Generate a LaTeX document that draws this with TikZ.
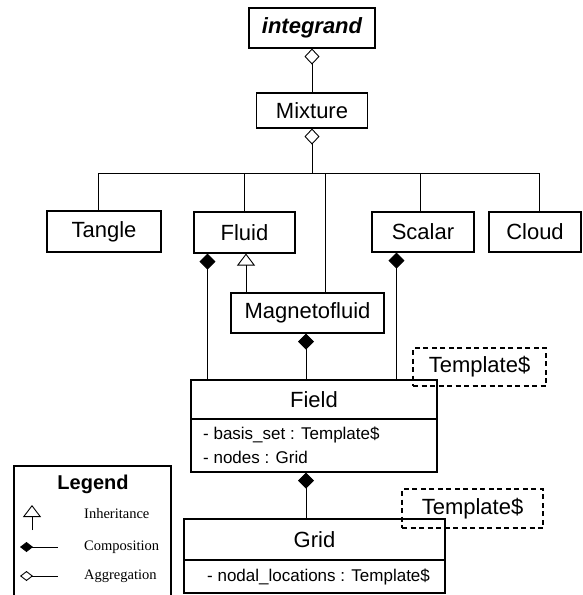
\documentclass[tikz,border=0pt]{standalone}
\usepackage{fontspec}
\setmainfont{Liberation Serif}
\newfontfamily\uisans{Liberation Sans}
\usetikzlibrary{arrows.meta}
\begin{document}
\begin{tikzpicture}[x=1pt,y=-1pt,
  cls/.style={draw, line width=1.1pt, inner sep=0pt,
    font=\uisans\fontsize{22}{26}\selectfont},
  attr/.style={anchor=west, inner sep=0pt,
    font=\uisans\fontsize{17}{20}\selectfont},
  tmpl/.style={draw, dash pattern=on 5pt off 3.5pt, line width=1.1pt,
    inner sep=0pt, font=\uisans\fontsize{22}{26}\selectfont},
  conn/.style={line width=0.9pt},
  comp/.style={conn, {Diamond[length=16pt,width=16pt]}-},
  aggr/.style={conn, {Diamond[open,length=16pt,width=15pt]}-},
  inh/.style={conn, -{Triangle[open,length=12pt,width=18pt]}},
  legtext/.style={anchor=west, inner sep=0pt, font=\fontsize{14.5}{17}\selectfont}
]
\useasboundingbox (0,0) rectangle (582,595);

% classes
\node[cls, minimum width=126pt, minimum height=40pt,
  font=\uisans\bfseries\itshape\fontsize{22}{26}\selectfont] (integrand) at (312,28) {integrand};
\node[cls, minimum width=111pt, minimum height=35pt] (mixture) at (312,110.5) {Mixture};
\node[cls, minimum width=114pt, minimum height=41pt] (tangle) at (104,231.5) {Tangle};
\node[cls, minimum width=101pt, minimum height=41pt] (fluid) at (244.5,232.5) {Fluid};
\node[cls, minimum width=102pt, minimum height=40pt] (scalar) at (423,232) {Scalar};
\node[cls, minimum width=92pt, minimum height=40pt] (cloud) at (535,232) {Cloud};
\node[cls, minimum width=153pt, minimum height=40pt] (magneto) at (307.5,313) {Magnetofluid};

\node[cls, minimum width=246pt, minimum height=39pt] (field) at (314,399.5) {Field};
\node[cls, minimum width=246pt, minimum height=53pt] (fattr) at (314,445.5) {};
\node[attr] (fa1) at (203,435) {- basis\_set : Template\$};
\node[attr] (fa2) at (203,457) {- nodes : Grid};

\node[cls, minimum width=261pt, minimum height=41pt] (grid) at (314.5,539.5) {Grid};
\node[cls, minimum width=261pt, minimum height=33pt] (gattr) at (314.5,576.5) {};
\node[attr] (ga1) at (207,577) {- nodal\_locations : Template\$};

% template parameters
\node[tmpl, minimum width=133pt, minimum height=38pt] (tfield) at (479.5,367) {Template\$};
\node[tmpl, minimum width=141pt, minimum height=39pt] (tgrid) at (472.5,508.5) {Template\$};

% aggregation chain
\draw[aggr] (integrand.south) -- (integrand.south |- mixture.north);
\coordinate (busL) at (98,173);
\coordinate (busR) at (539,173);
\draw[aggr] (mixture.south) -- (mixture.south |- busL);
\draw[conn] (busL) -- (busR);
\draw[conn] (busL) -- (busL |- tangle.north);
\draw[conn] (fluid.north) -- (fluid.north |- busL);
\draw[conn] ([xshift=17.5pt]magneto.north) -- ([xshift=17.5pt]magneto.north |- busL);
\draw[conn] ([xshift=-3pt]scalar.north) -- ([xshift=-3pt]scalar.north |- busL);
\draw[conn] (busR) -- (busR |- cloud.north);

% inheritance
\draw[inh] ([xshift=-61.5pt]magneto.north) -- ([xshift=-61.5pt]magneto.north |- fluid.south);

% compositions
\draw[comp] ([xshift=14pt]fluid.south west) -- ([xshift=14pt]fluid.south west |- field.north);
\draw[comp] ([xshift=25pt]scalar.south west) -- ([xshift=25pt]scalar.south west |- field.north);
\draw[comp] ([xshift=-1.5pt]magneto.south) -- ([xshift=-1.5pt]magneto.south |- field.north);
\draw[comp] ([xshift=-8pt]fattr.south) -- ([xshift=-8pt]fattr.south |- grid.north);

% legend
\draw[line width=1.1pt] (14,595) -- (14,466) -- (171,466) -- (171,595);
\node[inner sep=0pt, font=\uisans\bfseries\fontsize{20}{24}\selectfont] (legend) at (93,484) {Legend};
\draw[inh] (32,530) -- (32,505);
\node[legtext] (linh) at (84,514) {Inheritance};
\draw[conn, {Diamond[length=13pt,width=10pt]}-] (20,547) -- (58,547);
\node[legtext] (lcomp) at (84,547) {Composition};
\draw[conn, {Diamond[open,length=13pt,width=10pt]}-] (20,576) -- (58,576);
\node[legtext] (lagg) at (84,576) {Aggregation};
\end{tikzpicture}
\end{document}
